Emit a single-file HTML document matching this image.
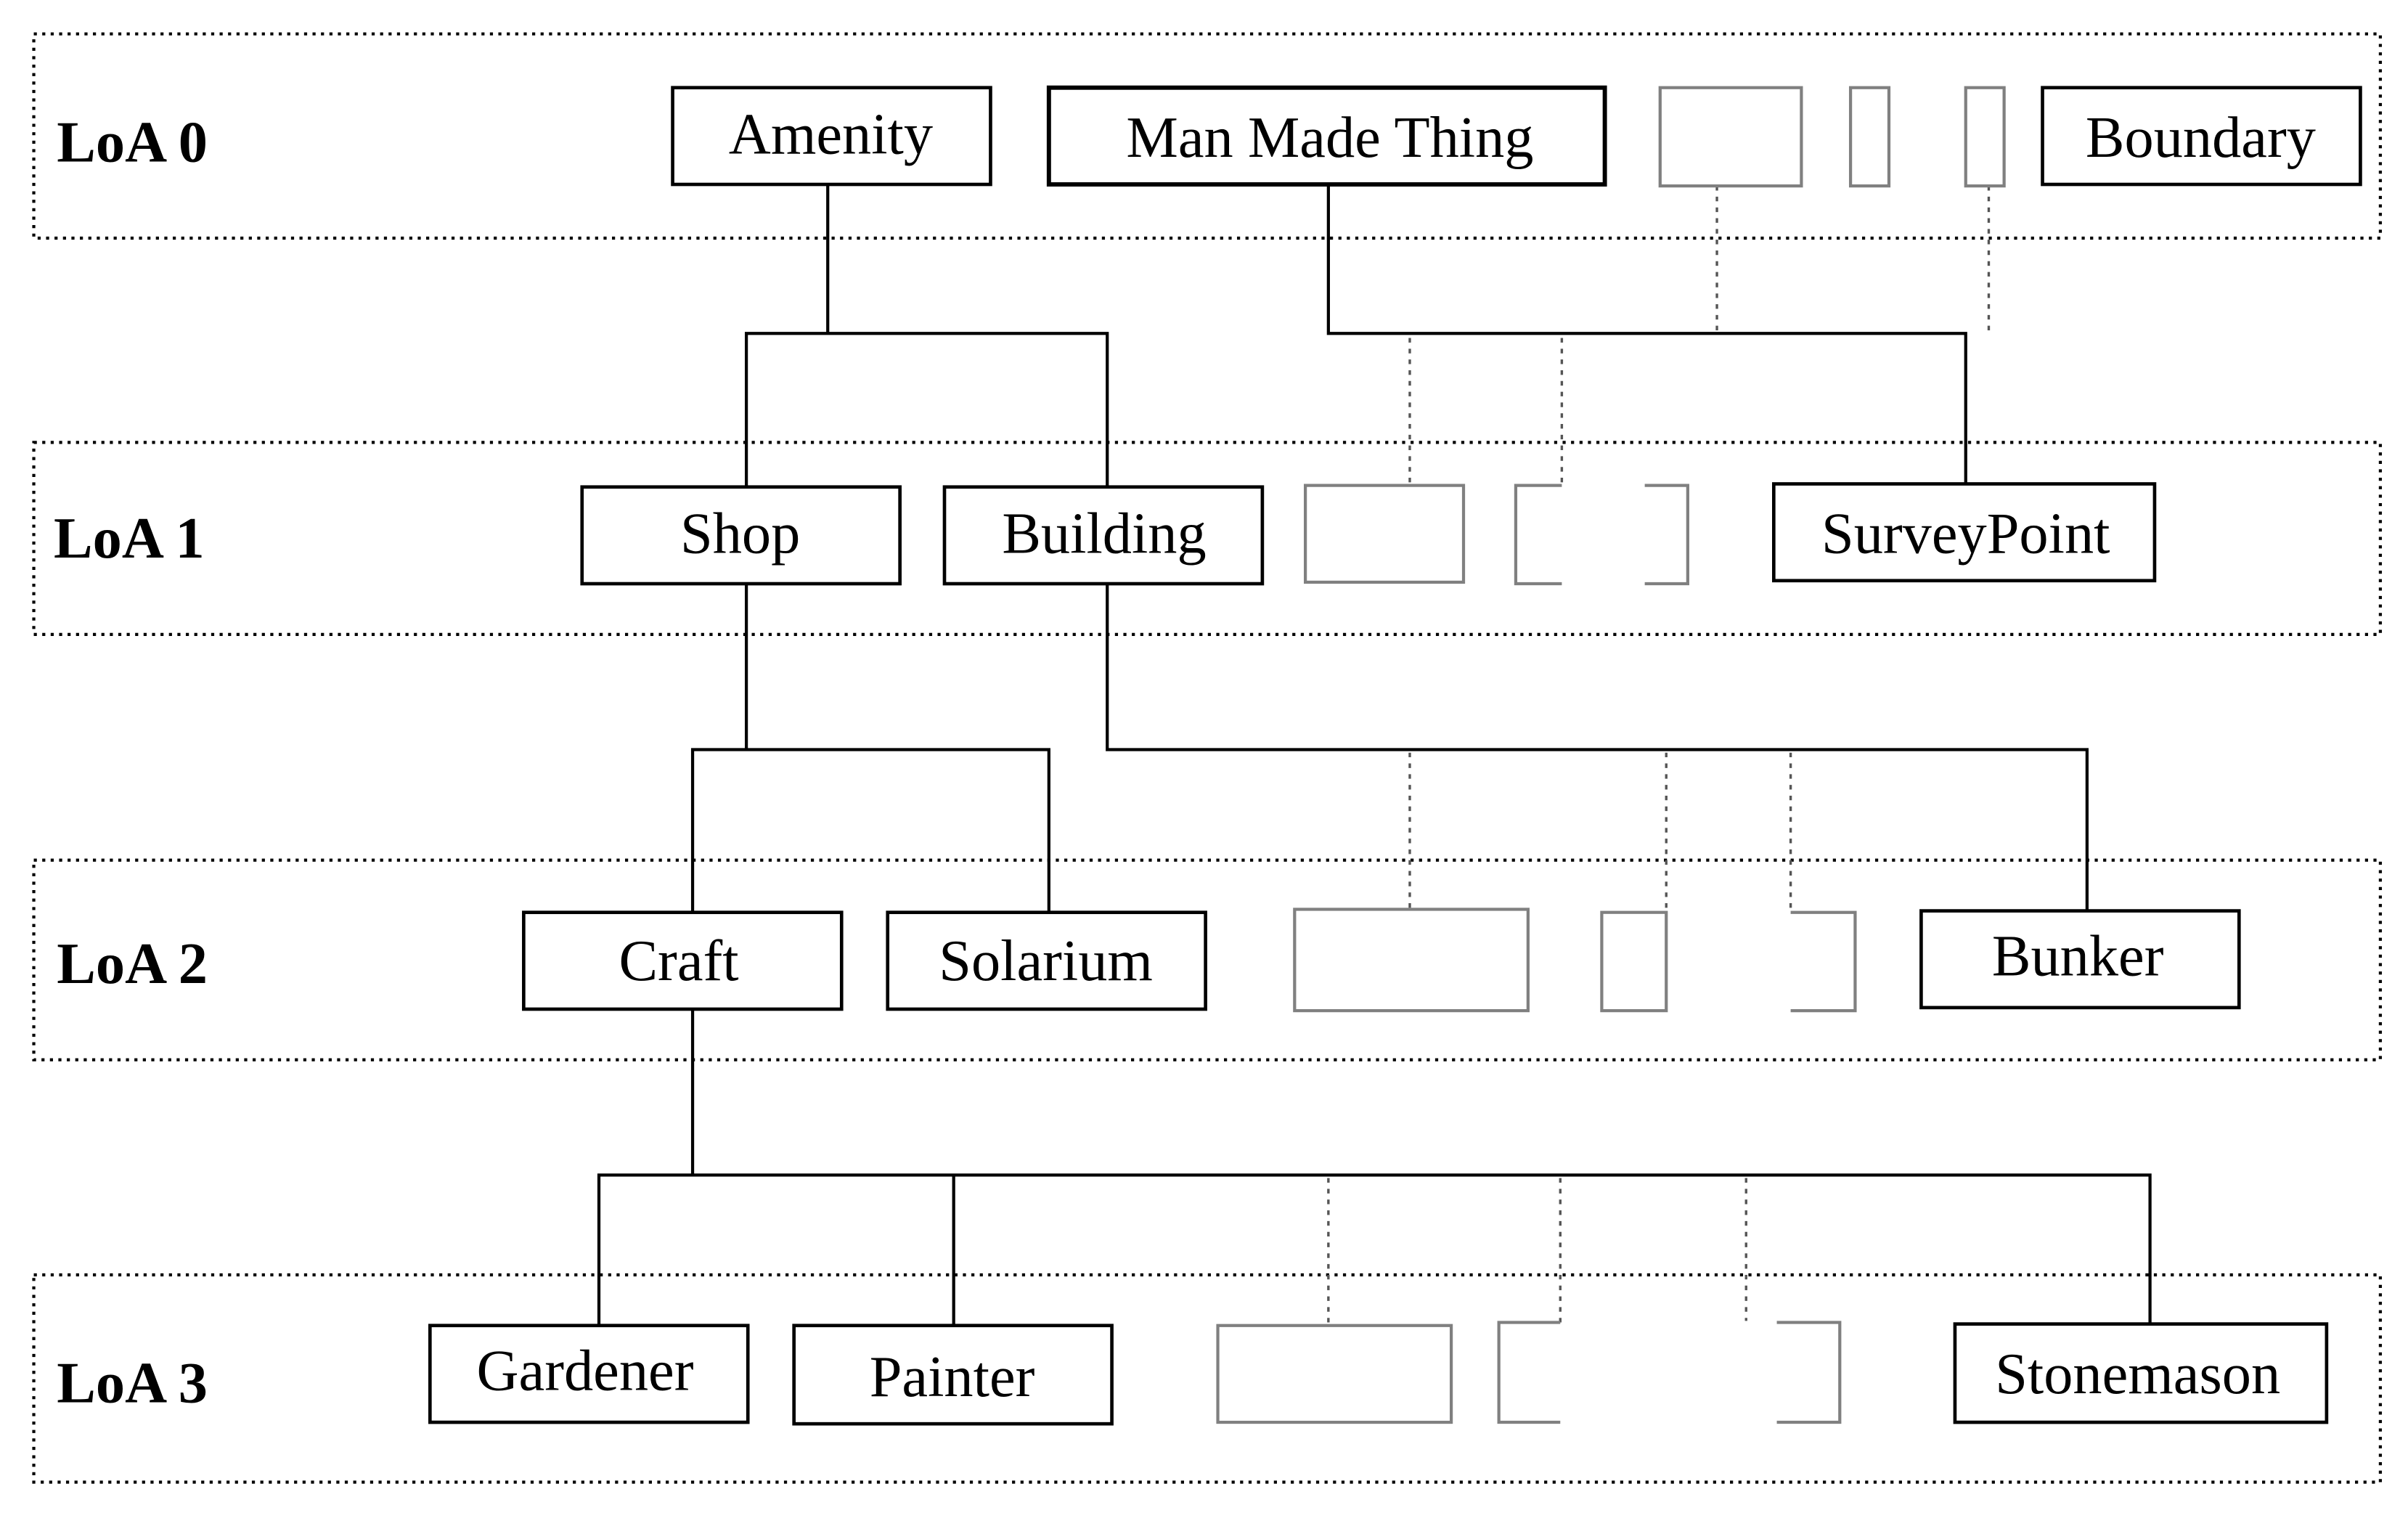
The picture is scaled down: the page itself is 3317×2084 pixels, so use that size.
<!DOCTYPE html>
<html><head><meta charset="utf-8"><style>
html,body{margin:0;padding:0;background:#fff;}
svg{display:block;}
text{font-family:"Liberation Serif",serif;}
</style></head><body>
<svg width="3317" height="2084" viewBox="0 0 1568 985" xmlns="http://www.w3.org/2000/svg">
<g fill="none" stroke="#000" stroke-width="2" stroke-dasharray="2,3.5">
<rect x="22" y="22" width="1528" height="133"/>
<rect x="22" y="288" width="1528" height="125"/>
<rect x="22" y="560" width="1528" height="130"/>
<rect x="22" y="830" width="1528" height="135"/>
</g>
<g font-weight="bold" font-size="38" fill="#000">
<text x="37" y="105">LoA 0</text>
<text x="35" y="363">LoA 1</text>
<text x="37" y="640">LoA 2</text>
<text x="37" y="913">LoA 3</text>
</g>
<!-- solid connectors -->
<g fill="none" stroke="#000" stroke-width="2">
<polyline points="539,120 539,217"/>
<polyline points="486,317 486,217 721,217 721,317"/>
<polyline points="865,120 865,217 1280,217 1280,315"/>
<polyline points="486,380 486,488"/>
<polyline points="451,594 451,488 683,488 683,594"/>
<polyline points="721,380 721,488 1359,488 1359,593"/>
<polyline points="451,657 451,765"/>
<polyline points="390,863 390,765 1400,765 1400,862"/>
<polyline points="621,765 621,863"/>
</g>
<!-- dotted gray connectors -->
<g fill="none" stroke="#555" stroke-width="1.6" stroke-dasharray="3,4">
<line x1="1118" y1="121" x2="1118" y2="215"/>
<line x1="1295" y1="121" x2="1295" y2="215"/>
<line x1="918" y1="220" x2="918" y2="315"/>
<line x1="1017" y1="220" x2="1017" y2="315"/>
<line x1="918" y1="490" x2="918" y2="591"/>
<line x1="1085" y1="490" x2="1085" y2="593"/>
<line x1="1166" y1="490" x2="1166" y2="593"/>
<line x1="865" y1="767" x2="865" y2="862"/>
<line x1="1016" y1="767" x2="1016" y2="861"/>
<line x1="1137" y1="767" x2="1137" y2="860"/>
</g>
<!-- gray boxes -->
<g fill="none" stroke="#808080" stroke-width="2">
<rect x="1081" y="57" width="92" height="64"/>
<rect x="1205" y="57" width="25" height="64"/>
<rect x="1280" y="57" width="25" height="64"/>
<rect x="850" y="316" width="103" height="63"/>
<polyline points="1017,316 987,316 987,380 1017,380"/>
<polyline points="1071,316 1099,316 1099,380 1071,380"/>
<rect x="843" y="592" width="152" height="66"/>
<rect x="1043" y="594" width="42" height="64"/>
<polyline points="1166,594 1208,594 1208,658 1166,658"/>
<rect x="793" y="863" width="152" height="63"/>
<polyline points="1016,861 976,861 976,926 1016,926"/>
<polyline points="1157,861 1198,861 1198,926 1157,926"/>
</g>
<!-- black boxes -->
<g fill="#fff" stroke="#000" stroke-width="2.2">
<rect x="438" y="57" width="207" height="63"/>
<rect x="683" y="57" width="362" height="63" stroke-width="2.8"/>
<rect x="1330" y="57" width="207" height="63"/>
<rect x="379" y="317" width="207" height="63"/>
<rect x="615" y="317" width="207" height="63"/>
<rect x="1155" y="315" width="248" height="63"/>
<rect x="341" y="594" width="207" height="63"/>
<rect x="578" y="594" width="207" height="63"/>
<rect x="1251" y="593" width="207" height="63"/>
<rect x="280" y="863" width="207" height="63"/>
<rect x="517" y="863" width="207" height="64"/>
<rect x="1273" y="862" width="242" height="64"/>
</g>
<g font-size="38" fill="#000" text-anchor="middle">
<text x="541" y="100">Amenity</text>
<text x="866" y="102">Man Made Thing</text>
<text x="1433" y="102">Boundary</text>
<text x="482" y="360">Shop</text>
<text x="719" y="360">Building</text>
<text x="1280" y="360">SurveyPoint</text>
<text x="442" y="638">Craft</text>
<text x="681" y="638">Solarium</text>
<text x="1353" y="635">Bunker</text>
<text x="381" y="905">Gardener</text>
<text x="620" y="909">Painter</text>
<text x="1392" y="907">Stonemason</text>
</g>
</svg>
</body></html>
